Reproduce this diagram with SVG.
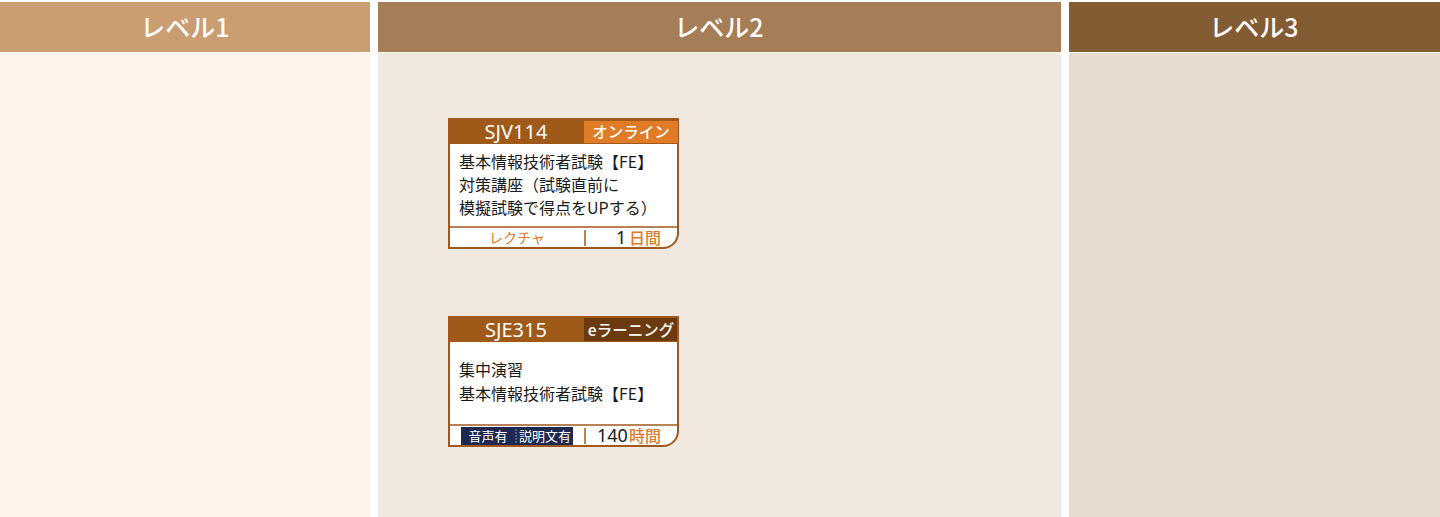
<svg xmlns="http://www.w3.org/2000/svg" width="1440" height="517" viewBox="0 0 1440 517">
<style>
.hd{font-family:"Noto Sans CJK JP","Noto Sans",sans-serif;font-size:25px;fill:#fff;text-anchor:middle;font-weight:500}
.code{font-family:"Noto Sans","Noto Sans CJK JP",sans-serif;font-size:20px;fill:#fff;text-anchor:middle}
.tag{font-family:"Noto Sans CJK JP",sans-serif;font-size:15.5px;fill:#fff;text-anchor:middle;font-weight:500}
.body{font-family:"Noto Sans CJK JP",sans-serif;font-size:16px;fill:#1a1a1a}
.ft{font-family:"Noto Sans CJK JP",sans-serif;font-size:14px;fill:#E07B28;text-anchor:middle}
.num{font-family:"Noto Sans",sans-serif;font-size:18px;fill:#1a1a1a}
.unit{font-family:"Noto Sans CJK JP",sans-serif;font-size:16px;fill:#E07B28;font-weight:500}
.badge{font-family:"Noto Sans CJK JP",sans-serif;font-size:13px;fill:#fff;text-anchor:middle}
.card{fill:#fff;stroke:#A0591C;stroke-width:2}
.line{stroke:#A0591C;stroke-width:1.5;fill:none}
</style>
<rect x="0" y="0" width="1440" height="517" fill="#fff"/>
<g id="col1">
<rect x="0" y="2" width="370" height="50" fill="#CB9D72"/>
<rect x="0" y="53" width="370" height="464" fill="#FDF3EA"/>
<text class="hd" x="185" y="37">レベル1</text>
</g>
<g id="col2">
<rect x="378" y="2" width="683" height="50" fill="#A57D56"/>
<rect x="378" y="53" width="683" height="464" fill="#F1E8DF"/>
<text class="hd" x="719" y="37">レベル2</text>
</g>
<g id="col3">
<rect x="1069" y="2" width="371" height="50" fill="#845C33"/>
<rect x="1069" y="53" width="371" height="464" fill="#E7DCCF"/>
<text class="hd" x="1254" y="37">レベル3</text>
</g>
<g id="card-SJV114">
<path class="card" d="M449,119 H678 V233 A15,15 0 0 1 663,248 H449 Z"/>
<rect x="449" y="119" width="229" height="25" fill="#9F5A1A"/>
<rect x="584" y="121" width="94" height="22" fill="#E07B28"/>
<text class="code" x="516" y="139">SJV114</text>
<text class="tag" x="631" y="138">オンライン</text>
<text class="body" x="459" y="168">基本情報技術者試験【FE】</text>
<text class="body" x="459" y="191">対策講座（試験直前に</text>
<text class="body" x="459" y="214">模擬試験で得点をUPする）</text>
<line class="line" x1="449" y1="227" x2="678" y2="227"/>
<line class="line" x1="585" y1="230" x2="585" y2="246"/>
<text class="ft" x="517" y="243">レクチャ</text>
<text class="num" x="616" y="244">1</text>
<text class="unit" x="629" y="244">日間</text>
</g>
<g id="card-SJE315">
<path class="card" d="M449,317 H678 V431 A15,15 0 0 1 663,446 H449 Z"/>
<rect x="449" y="317" width="229" height="25" fill="#9F5A1A"/>
<rect x="584" y="318" width="93" height="23" fill="#6B3A0E"/>
<text class="code" x="516" y="337">SJE315</text>
<text class="tag" x="631" y="336">eラーニング</text>
<text class="body" x="459" y="376">集中演習</text>
<text class="body" x="459" y="400">基本情報技術者試験【FE】</text>
<line class="line" x1="449" y1="425" x2="678" y2="425"/>
<line class="line" x1="585" y1="428" x2="585" y2="444"/>
<rect x="461" y="427" width="112" height="18" fill="#1D2951"/>
<line x1="516" y1="429" x2="516" y2="443" stroke="#8890b0" stroke-width="1" stroke-dasharray="2,1"/>
<text class="badge" x="488" y="441">音声有</text>
<text class="badge" x="545" y="441">説明文有</text>
<text class="num" x="597" y="442">140</text>
<text class="unit" x="629" y="442">時間</text>
</g>
<g id="connectors"/>
</svg>
